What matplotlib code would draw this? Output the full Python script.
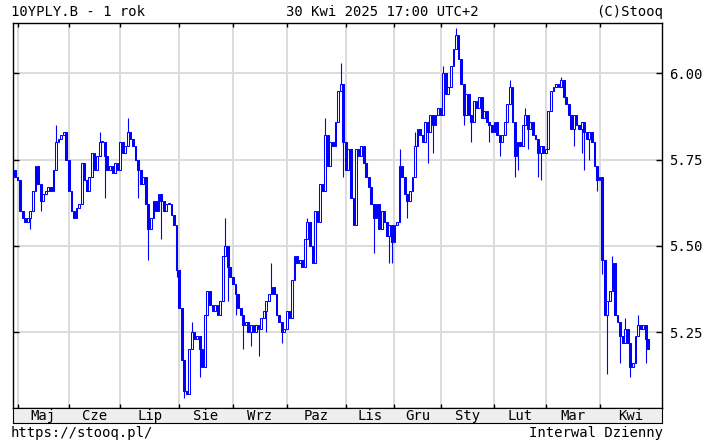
import pandas as pd
import matplotlib
matplotlib.use('Agg')
import matplotlib.pyplot as plt

# trading calendar (GPW), 30 Apr 2024 - 30 Apr 2025
holidays = ['2024-05-01', '2024-05-03', '2024-05-30', '2024-08-15', '2024-11-01',
            '2024-11-11', '2024-12-24', '2024-12-25', '2024-12-26', '2024-12-31',
            '2025-01-01', '2025-01-06', '2025-04-18', '2025-04-21']

first_open = 5.72
close = [
    5.70,
    # May
    5.69, 5.60, 5.58, 5.57, 5.58, 5.60, 5.66, 5.73, 5.68, 5.63, 5.65, 5.66, 5.67, 5.66, 5.72,
    5.80, 5.81, 5.82, 5.83, 5.75,
    # Jun
    5.66, 5.60, 5.58, 5.61, 5.62, 5.74, 5.69, 5.66, 5.70, 5.77, 5.72, 5.76, 5.80, 5.80, 5.76,
    5.72, 5.73, 5.71, 5.74, 5.72,
    # Jul
    5.80, 5.77, 5.79, 5.83, 5.81, 5.79, 5.75, 5.72, 5.68, 5.70, 5.62, 5.55, 5.58, 5.63, 5.60,
    5.65, 5.63, 5.60, 5.62, 5.62, 5.59, 5.56, 5.43,
    # Aug
    5.32, 5.17, 5.08, 5.07, 5.20, 5.25, 5.23, 5.24, 5.20, 5.15, 5.30, 5.37, 5.33, 5.31, 5.33,
    5.30, 5.34, 5.47, 5.50, 5.44, 5.41,
    # Sep
    5.39, 5.36, 5.32, 5.30, 5.27, 5.28, 5.25, 5.27, 5.25, 5.27, 5.26, 5.29, 5.31, 5.34, 5.36,
    5.38, 5.36, 5.30, 5.28, 5.25, 5.26,
    # Oct
    5.31, 5.29, 5.40, 5.47, 5.45, 5.46, 5.44, 5.52, 5.57, 5.50, 5.45, 5.60, 5.57, 5.68, 5.66,
    5.82, 5.73, 5.80, 5.79, 5.86, 5.95, 5.97, 5.80,
    # Nov
    5.72, 5.78, 5.64, 5.56, 5.78, 5.76, 5.79, 5.74, 5.70, 5.67, 5.62, 5.58, 5.62, 5.55, 5.60,
    5.57, 5.53, 5.56, 5.51,
    # Dec
    5.56, 5.57, 5.73, 5.70, 5.65, 5.63, 5.66, 5.70, 5.79, 5.84, 5.82, 5.80, 5.86, 5.83, 5.88,
    5.85, 5.88, 5.90,
    # Jan
    5.88, 6.00, 5.94, 5.96, 6.02, 6.07, 6.11, 6.04, 5.97, 5.88, 5.94, 5.88, 5.86, 5.92, 5.90,
    5.93, 5.87, 5.89, 5.86, 5.85, 5.83,
    # Feb
    5.86, 5.82, 5.80, 5.82, 5.86, 5.91, 5.96, 5.86, 5.76, 5.80, 5.79, 5.85, 5.88, 5.84, 5.86,
    5.82, 5.81, 5.77, 5.79, 5.77,
    # Mar
    5.78, 5.89, 5.95, 5.96, 5.97, 5.96, 5.98, 5.93, 5.91, 5.88, 5.84, 5.88, 5.85, 5.84, 5.86,
    5.83, 5.81, 5.83, 5.80, 5.73, 5.69,
    # Apr
    5.70, 5.46, 5.30, 5.34, 5.37, 5.45, 5.30, 5.28, 5.24, 5.22, 5.26, 5.22, 5.15, 5.16, 5.24,
    5.27, 5.26, 5.27, 5.23, 5.20,
]

# visible wicks (bar index -> value)
wick_high = {16: 5.85, 33: 5.83, 44: 5.87, 69: 5.28, 82: 5.58, 100: 5.45, 114: 5.58,
             121: 5.87, 127: 6.03, 150: 5.78, 156: 5.83, 167: 6.02, 172: 6.13, 193: 5.98,
             199: 5.90, 213: 5.99, 233: 5.47, 238: 5.29, 243: 5.30}
wick_low = {6: 5.55, 10: 5.60, 35: 5.64, 48: 5.64, 52: 5.46, 57: 5.52, 63: 5.41, 66: 5.06,
            72: 5.12, 83: 5.34, 86: 5.30, 89: 5.20, 92: 5.21, 95: 5.18, 98: 5.25, 104: 5.22,
            128: 5.70, 140: 5.48, 146: 5.45, 147: 5.45, 153: 5.58, 161: 5.74, 163: 5.77,
            175: 5.85, 178: 5.80, 185: 5.80, 189: 5.76, 195: 5.70, 196: 5.72, 200: 5.78,
            204: 5.70, 205: 5.69, 218: 5.79, 221: 5.77, 222: 5.72, 224: 5.75, 227: 5.66,
            229: 5.42, 231: 5.13, 236: 5.16, 240: 5.12, 246: 5.16}

month_names = ['Maj', 'Cze', 'Lip', 'Sie', 'Wrz', 'Paz', 'Lis', 'Gru', 'Sty', 'Lut', 'Mar', 'Kwi']
y_ticks = [5.25, 5.50, 5.75, 6.00]

dates = pd.bdate_range('2024-04-30', '2025-04-30')
dates = dates[~dates.isin(pd.to_datetime(holidays))]
df = pd.DataFrame({'close': close}, index=dates)
df['open'] = df['close'].shift(1).fillna(first_open)
df['i'] = range(len(df))

# first bar of every month
month_start = df.groupby(df.index.to_period('M'))['i'].min().values[1:]

W, H = 706, 446
fig = plt.figure(figsize=(W / 100, H / 100), dpi=100)
blue = '#0000ff'
grid_c = '#dcdcdc'
mono = 'DejaVu Sans Mono'

x0, x1, ytop, ybot = 13, 662, 23, 408
ax = fig.add_axes([x0 / W, 1 - ybot / H, (x1 - x0) / W, (ybot - ytop) / H])
xmin = -0.78
xmax = xmin + (x1 - x0) / 2.564
ax.set_xlim(xmin, xmax)
ax.set_ylim(5.0304, 6.1457)

for v in y_ticks:
    ax.axhline(v, color=grid_c, lw=1.4, zorder=0)
for m in month_start:
    ax.axvline(m, color=grid_c, lw=1.4, zorder=0)

# candles
for i, (o, c) in enumerate(zip(df['open'], df['close'])):
    lo, hi = min(o, c), max(o, c)
    top = max(hi, wick_high.get(i, hi))
    bot = min(lo, wick_low.get(i, lo))
    if top > hi:
        ax.vlines(i, hi, top, color=blue, lw=0.8, zorder=2)
    if bot < lo:
        ax.vlines(i, bot, lo, color=blue, lw=0.8, zorder=2)
    h = max(hi - lo, 0.003)
    ax.bar(i, h, bottom=lo, width=0.7, facecolor='white' if c >= o else blue,
           edgecolor=blue, linewidth=0.75, zorder=3)

ax.yaxis.tick_right()
ax.set_yticks(y_ticks)
ax.set_yticklabels([f'{v:.2f}' for v in y_ticks], fontfamily=mono, fontsize=10)
ax.tick_params(axis='y', which='both', direction='in', length=4, width=1,
               left=True, right=True, pad=5)
ax.set_xticks(month_start)
ax.set_xticklabels([])
ax.tick_params(axis='x', direction='in', length=3, width=1, top=True, bottom=True)
for s in ax.spines.values():
    s.set_linewidth(1)

# month strip
strip = fig.add_axes([x0 / W, 1 - 423 / H, (x1 - x0) / W, (423 - ybot) / H])
strip.set_facecolor('#eeeeee')
strip.set_xlim(xmin, xmax)
strip.set_ylim(0, 1)
strip.set_xticks([])
strip.set_yticks([])
edges = list(month_start) + [xmax]
for k, name in enumerate(month_names):
    strip.text((edges[k] + edges[k + 1]) / 2, 0.45, name, ha='center', va='center',
               fontfamily=mono, fontsize=10)

fig.text(11 / W, 1 - 12 / H, '10YPLY.B - 1 rok', ha='left', va='center', fontfamily=mono, fontsize=10)
fig.text(382 / W, 1 - 12 / H, '30 Kwi 2025 17:00 UTC+2', ha='center', va='center', fontfamily=mono, fontsize=10)
fig.text(663 / W, 1 - 12 / H, '(C)Stooq', ha='right', va='center', fontfamily=mono, fontsize=10)
fig.text(11 / W, 1 - 433 / H, 'https://stooq.pl/', ha='left', va='center', fontfamily=mono, fontsize=10)
fig.text(663 / W, 1 - 433 / H, 'Interwal Dzienny', ha='right', va='center', fontfamily=mono, fontsize=10)

fig.savefig('out.png', dpi=100)
